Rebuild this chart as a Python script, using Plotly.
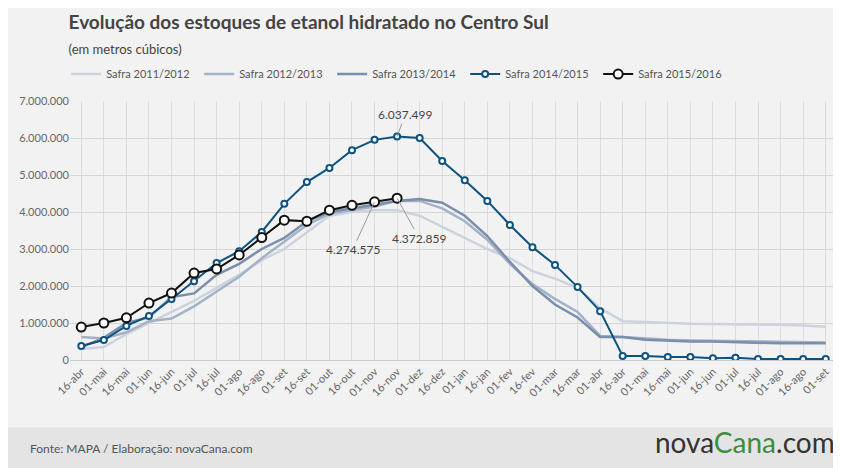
import plotly.graph_objects as go

# dados (milhões de m3)
datas = ["16-abr", "01-mai", "16-mai", "01-jun", "16-jun", "01-jul", "16-jul", "01-ago", "16-ago",
         "01-set", "16-set", "01-out", "16-out", "01-nov", "16-nov", "01-dez", "16-dez", "01-jan",
         "16-jan", "01-fev", "16-fev", "01-mar", "16-mar", "01-abr", "16-abr", "01-mai", "16-mai",
         "01-jun", "16-jun", "01-jul", "16-jul", "01-ago", "16-ago", "01-set"]

safra_2011 = [0.30, 0.35, 0.70, 1.00, 1.30, 1.60, 1.95, 2.30, 2.70, 3.00, 3.45, 3.90, 4.00, 4.05,
              4.05, 3.90, 3.60, 3.30, 3.00, 2.75, 2.40, 2.20, 1.95, 1.40, 1.05, 1.03, 1.00, 0.98,
              0.97, 0.97, 0.95, 0.95, 0.93, 0.90]
safra_2012 = [0.62, 0.58, 0.75, 1.05, 1.12, 1.45, 1.85, 2.25, 2.75, 3.20, 3.65, 3.95, 4.05, 4.15,
              4.30, 4.30, 4.10, 3.75, 3.25, 2.60, 2.05, 1.65, 1.30, 0.65, 0.62, 0.58, 0.55, 0.53,
              0.52, 0.50, 0.50, 0.48, 0.47, 0.47]
safra_2013 = [0.35, 0.60, 1.00, 1.15, 1.70, 1.80, 2.30, 2.60, 3.00, 3.30, 3.75, 4.00, 4.10, 4.20,
              4.30, 4.35, 4.25, 3.90, 3.35, 2.65, 2.00, 1.50, 1.15, 0.62, 0.62, 0.55, 0.52, 0.50,
              0.50, 0.48, 0.48, 0.45, 0.45, 0.45]
safra_2014 = [0.38, 0.54, 0.92, 1.19, 1.65, 2.13, 2.62, 2.94, 3.46, 4.22, 4.81, 5.19, 5.67, 5.95,
              6.037499, 6.00, 5.38, 4.86, 4.30, 3.65, 3.05, 2.57, 1.97, 1.32, 0.11, 0.11, 0.08,
              0.08, 0.05, 0.06, 0.03, 0.03, 0.03, 0.03]
safra_2015 = [0.89, 1.00, 1.14, 1.54, 1.81, 2.35, 2.46, 2.84, 3.31, 3.78, 3.75, 4.05, 4.18,
              4.274575, 4.372859]

idx = list(range(len(datas)))
fig = go.Figure()

def linha(nome, vals, cor, marcador=False, msize=6, largura=2.5):
    fig.add_trace(go.Scatter(
        x=idx[:len(vals)], y=[v * 1e6 for v in vals], name=nome,
        mode="lines+markers" if marcador else "lines",
        line=dict(color=cor, width=largura),
        marker=dict(size=msize, color="white", line=dict(color=cor, width=2)),
    ))

linha("Safra 2011/2012", safra_2011, "#ccd3de")
linha("Safra 2012/2013", safra_2012, "#a4b2c6")
linha("Safra 2013/2014", safra_2013, "#7a8fab")
linha("Safra 2014/2015", safra_2014, "#0e5380", True, 6, 2)
linha("Safra 2015/2016", safra_2015, "#111111", True, 9, 2)

anot = [(14, 6.037499, "6.037.499", 8, -22),
        (13, 4.274575, "4.274.575", -22, 48),
        (14, 4.372859, "4.372.859", 22, 40)]
for i, v, t, ax, ay in anot:
    fig.add_annotation(x=i, y=v * 1e6, text=t, showarrow=True, arrowhead=0, arrowwidth=1,
                       arrowcolor="#999999", ax=ax, ay=ay, font=dict(size=12, color="#444"))

fig.add_shape(type="rect", xref="paper", yref="paper", x0=-0.2, x1=1.2, y0=-0.6, y1=-0.26,
              fillcolor="#e4e4e4", line_width=0, layer="below")
fig.add_annotation(xref="paper", yref="paper", x=-0.055, y=-0.38, xanchor="left", showarrow=False,
                   text="Fonte: MAPA / Elaboração: novaCana.com", font=dict(size=12, color="#555"))
fig.add_annotation(xref="paper", yref="paper", x=1.0, y=-0.39, xanchor="right", showarrow=False,
                   text="nova<span style='color:#3c8d3c'>Cana</span>.com",
                   font=dict(size=28, color="#333", family="Lato"))

fig.update_layout(
    width=841, height=468, paper_bgcolor="#f2f2f2", plot_bgcolor="#f2f2f2",
    margin=dict(l=62, r=12, t=93, b=116),
    font=dict(family="Lato", color="#555"),
    title=dict(text="<b>Evolução dos estoques de etanol hidratado no Centro Sul</b><br>"
                    "<span style='font-size:13px'>(em metros cúbicos)</span>",
               x=0.072, xanchor="left", y=0.955, font=dict(size=19, color="#444")),
    legend=dict(orientation="h", x=-0.005, y=1.16, xanchor="left", font=dict(size=11, color="#555"),
                bgcolor="rgba(0,0,0,0)", entrywidth=88, entrywidthmode="pixels"),
    showlegend=True,
    separators=",.",
)
fig.update_xaxes(tickvals=idx, ticktext=datas, tickangle=-45, range=[-0.5, 33.5],
                 showgrid=True, gridcolor="#dddddd", tickfont=dict(size=11, color="#666"),
                 showline=True, linecolor="#cccccc", zeroline=False)
fig.update_yaxes(range=[0, 7e6], dtick=1e6, tickformat=",.0f", gridcolor="#d6d6d6",
                 tickfont=dict(size=11, color="#666"), zeroline=False, ticks="")

fig.write_html("out.html")
